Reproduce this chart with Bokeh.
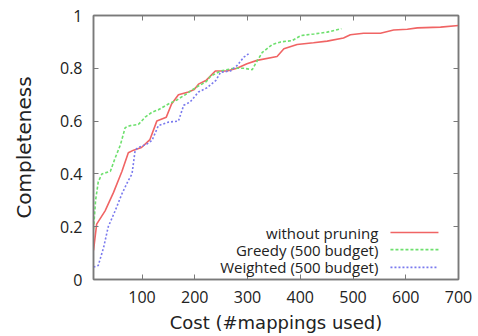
from bokeh.plotting import figure
from bokeh.models import LinearAxis, Range1d, FixedTicker, Label, Arrow
from bokeh.embed import file_html
from bokeh.resources import INLINE

# ---- data ----
red_x = [8, 14, 30, 46, 62, 74, 84, 99, 115, 128, 146, 156, 169, 188, 199, 207, 222,
         239, 261, 280, 299, 318, 356, 369, 394, 425, 451, 482, 495, 520, 552, 577,
         603, 622, 666, 700]
red_y = [0.11, 0.21, 0.26, 0.33, 0.41, 0.48, 0.49, 0.50, 0.53, 0.60, 0.615, 0.665,
         0.70, 0.71, 0.72, 0.74, 0.755, 0.79, 0.79, 0.80, 0.817, 0.83, 0.845, 0.874,
         0.89, 0.897, 0.903, 0.915, 0.927, 0.933, 0.933, 0.945, 0.948, 0.953, 0.956, 0.962]

green_x = [8, 12, 17, 24, 40, 49, 59, 68, 78, 93, 106, 119, 131, 150, 166, 182, 201,
           222, 230, 249, 274, 293, 309, 315, 328, 347, 363, 385, 401, 426, 451, 478]
green_y = [0.19, 0.30, 0.37, 0.40, 0.41, 0.46, 0.51, 0.575, 0.583, 0.587, 0.615, 0.634,
           0.643, 0.665, 0.68, 0.70, 0.726, 0.75, 0.77, 0.79, 0.80, 0.80, 0.795, 0.817,
           0.86, 0.89, 0.90, 0.905, 0.924, 0.93, 0.937, 0.95]

blue_x = [8, 17, 27, 36, 49, 62, 74, 81, 87, 93, 109, 119, 131, 150, 169, 179, 191,
          207, 223, 240, 249, 268, 280, 293, 302]
blue_y = [0.047, 0.053, 0.12, 0.20, 0.26, 0.325, 0.375, 0.40, 0.49, 0.50, 0.513, 0.527,
          0.583, 0.596, 0.60, 0.66, 0.672, 0.71, 0.726, 0.754, 0.785, 0.79, 0.81, 0.842, 0.855]

x_ticks = [100, 200, 300, 400, 500, 600, 700]
y_ticks = [0, 0.2, 0.4, 0.6, 0.8, 1]
y_tick_labels = ["0", "0.2", "0.4", "0.6", "0.8", "1"]

series_names = ["without pruning", "Greedy (500 budget)", "Weighted (500 budget)"]

# ---- styles ----
FONT = "Open Sans"
LABEL_FONT = "DejaVu Sans"
RED = "#f06464"
GREEN = "#6ee06e"
BLUE = "#7a7aee"
FRAME = "#7a7a7a"
TEXT = "#222222"

p = figure(frame_width=365, frame_height=264, output_backend="svg", toolbar_location=None,
           x_range=Range1d(8, 700), y_range=Range1d(0, 1),
           x_axis_location=None, y_axis_location=None,
           min_border_left=93, min_border_right=20, min_border_top=15, min_border_bottom=57)
p.grid.visible = False
p.outline_line_color = FRAME
p.outline_line_width = 1.5
p.background_fill_color = "white"
p.border_fill_color = "white"

def style_axis(ax, show_labels):
    ax.axis_line_color = FRAME
    ax.axis_line_width = 1.5
    ax.major_tick_line_color = FRAME
    ax.major_tick_in = 5
    ax.major_tick_out = 0
    ax.minor_tick_line_color = None
    ax.major_label_text_font = FONT
    ax.major_label_text_color = TEXT
    if show_labels:
        ax.major_label_text_font_size = "16px"
    else:
        ax.major_label_text_color = None
        ax.major_label_text_font_size = "1px"

xb = LinearAxis(ticker=FixedTicker(ticks=x_ticks))
style_axis(xb, True)
xb.major_label_standoff = 11
xb.axis_label = "Cost (#mappings used)"
xb.axis_label_text_font = LABEL_FONT
xb.axis_label_text_font_size = "18px"
xb.axis_label_text_font_style = "normal"
xb.axis_label_text_color = TEXT
xb.axis_label_standoff = 6
p.add_layout(xb, "below")

yl = LinearAxis(ticker=FixedTicker(ticks=y_ticks))
style_axis(yl, True)
yl.major_label_overrides = {t: s for t, s in zip(y_ticks, y_tick_labels)}
yl.major_label_standoff = 11
yl.axis_label = "Completeness"
yl.axis_label_text_font = LABEL_FONT
yl.axis_label_text_font_size = "20px"
yl.axis_label_text_font_style = "normal"
yl.axis_label_text_color = TEXT
yl.axis_label_standoff = 21
p.add_layout(yl, "left")

xt = LinearAxis(ticker=FixedTicker(ticks=x_ticks))
style_axis(xt, False)
p.add_layout(xt, "above")

yr = LinearAxis(ticker=FixedTicker(ticks=y_ticks))
style_axis(yr, False)
p.add_layout(yr, "right")

p.line(red_x, red_y, line_color=RED, line_width=1.6)
p.line(green_x, green_y, line_color=GREEN, line_width=1.6, line_dash="3 2")
p.line(blue_x, blue_y, line_color=BLUE, line_width=1.6, line_dash="2 2")

# ---- legend (gnuplot style: text right-aligned, sample to the right) ----
leg_text_x = 548
leg_line_x0, leg_line_x1 = 571, 662
leg_rows = [0.178, 0.113, 0.046]
leg_styles = [(RED, "solid"), (GREEN, "3 2"), (BLUE, "2 2")]
for name, yy, (col, dash) in zip(series_names, leg_rows, leg_styles):
    p.add_layout(Label(x=leg_text_x, y=yy, text=name, text_align="right",
                       text_baseline="middle", text_font=FONT, text_font_size="15px",
                       text_color=TEXT))
    p.add_layout(Arrow(end=None, x_start=leg_line_x0, y_start=yy, x_end=leg_line_x1,
                       y_end=yy, line_color=col, line_width=1.6, line_dash=dash))

open("out.html", "w").write(file_html(p, INLINE))
